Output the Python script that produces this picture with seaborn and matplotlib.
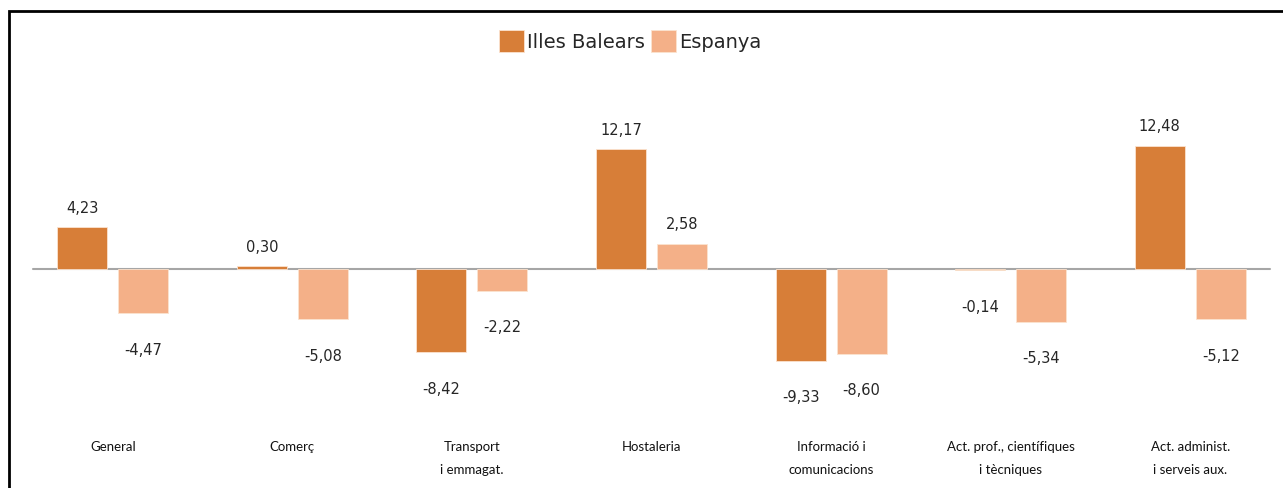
import numpy as np
import pandas as pd
import matplotlib
matplotlib.use("Agg")
import matplotlib.pyplot as plt
import seaborn as sns
from matplotlib.patches import Rectangle


# -------------------------
# Data
# -------------------------
categories = [
    "General",
    "Comerç",
    "Transport\ni emmagat.",
    "Hostaleria",
    "Informació i\ncomunicacions",
    "Act. prof., científiques\ni tècniques",
    "Act. administ.\ni serveis aux.",
]
series_names = ["Illes Balears", "Espanya"]
illes_balears = [4.23, 0.30, -8.42, 12.17, -9.33, -0.14, 12.48]
espanya = [-4.47, -5.08, -2.22, 2.58, -8.60, -5.34, -5.12]

colors = {"Illes Balears": "#D77E38", "Espanya": "#F4B088"}

df = pd.DataFrame({
    "sector": categories * 2,
    "serie": [series_names[0]] * len(categories) + [series_names[1]] * len(categories),
    "valor": illes_balears + espanya,
})


# -------------------------
# Figure
# -------------------------
sns.set_style("white")
W, H = 1283, 488
fig = plt.figure(figsize=(W / 100, H / 100), dpi=100)
fig.patch.set_facecolor("white")

ax = fig.add_axes([23 / W, 1 - 420 / H, 1257 / W, 360 / H])

sns.barplot(
    data=df,
    x="sector",
    y="valor",
    hue="serie",
    hue_order=series_names,
    palette=colors,
    saturation=1,
    width=0.68,
    gap=0.18,
    errorbar=None,
    edgecolor="#FBE3CF",
    linewidth=0.6,
    ax=ax,
)

px_per_unit = 9.86
ax.set_ylim(-(420 - 269) / px_per_unit, (269 - 60) / px_per_unit)
ax.set_xlim(-0.5, 6.5)

ax.axhline(0, xmin=10 / 1257, xmax=(1270 - 23) / 1257, color="#A6A6A6", lw=1.5, zorder=0)

for spine in ax.spines.values():
    spine.set_visible(False)
ax.set_yticks([])
ax.set_xlabel("")
ax.set_ylabel("")
ax.tick_params(axis="x", length=0, pad=15)
for lbl in ax.get_xticklabels():
    lbl.set_fontfamily("Lato")
    lbl.set_fontsize(9.5)
    lbl.set_linespacing(2.15)
    lbl.set_color("#111111")

# value labels
for container, vals in zip(ax.containers, [illes_balears, espanya]):
    for bar, v in zip(container, vals):
        x = bar.get_x() + bar.get_width() / 2
        off = 19 * 0.72 if v >= 0 else -37 * 0.72
        ax.annotate(
            f"{v:.2f}".replace(".", ","),
            (x, v),
            xytext=(0, off),
            textcoords="offset points",
            ha="center",
            va="center",
            fontsize=10.5,
            color="#262626",
        )

# legend
handles, labels = ax.get_legend_handles_labels()
ax.legend_.remove()
fig.legend(
    handles,
    labels,
    loc="center",
    bbox_to_anchor=(630 / W, 1 - 41 / H),
    ncol=2,
    frameon=False,
    fontsize=14,
    handlelength=1.3,
    handleheight=1.3,
    handletextpad=0.15,
    columnspacing=0.3,
    labelcolor="#262626",
)

# outer frame (only top and left edges fall inside the image)
fig.add_artist(Rectangle(
    (9 / W, -0.2), 1.2, 1.2 - 11 / H,
    transform=fig.transFigure, fill=False, edgecolor="black", lw=2, clip_on=False,
))

fig.savefig("out.png", dpi=100)
plt.close(fig)
